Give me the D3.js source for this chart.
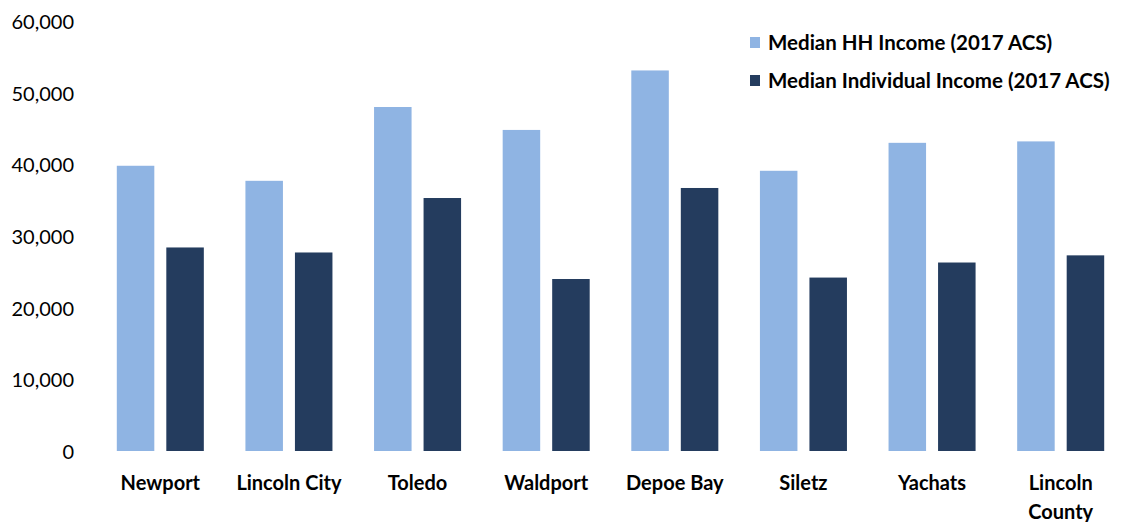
<!DOCTYPE html>
<html>
<head>
<meta charset="utf-8">
<script src="https://cdn.jsdelivr.net/npm/d3@7"></script>
<style>
  html, body { margin: 0; padding: 0; background: #fff; }
  svg { display: block; }
  text { font-family: "Lato", "Open Sans", sans-serif; fill: #000; }
</style>
</head>
<body>
<svg id="chart" width="1123" height="522"></svg>
<script>
const categories = ["Newport", "Lincoln City", "Toledo", "Waldport", "Depoe Bay", "Siletz", "Yachats", "Lincoln County"];
const seriesNames = ["Median HH Income (2017 ACS)", "Median Individual Income (2017 ACS)"];
const hhIncome = [39800, 37700, 48000, 44800, 53100, 39100, 43000, 43200];
const individualIncome = [28400, 27700, 35300, 24000, 36700, 24200, 26300, 27300];
const yTicks = [0, 10000, 20000, 30000, 40000, 50000, 60000];
const colors = ["#8fb4e3", "#243c5e"];

const svg = d3.select("#chart");

const x0 = d3.scaleBand().domain(categories).range([96, 1125]).paddingInner(0).paddingOuter(0);
const innerPad = 20.8;
const x1 = d3.scaleBand().domain(seriesNames).range([innerPad, x0.bandwidth() - innerPad]).paddingInner(0.2424).paddingOuter(0);
const y = d3.scaleLinear().domain([0, 60000]).range([451, 21]);

const seriesValues = [hhIncome, individualIncome];

// bars
const groups = svg.append("g").selectAll("g")
  .data(categories)
  .join("g")
  .attr("transform", d => `translate(${x0(d)},0)`);

groups.selectAll("rect")
  .data((d, i) => seriesNames.map((s, j) => ({ s, j, v: seriesValues[j][i] })))
  .join("rect")
  .attr("x", d => x1(d.s))
  .attr("width", x1.bandwidth())
  .attr("y", d => y(d.v))
  .attr("height", d => y(0) - y(d.v))
  .attr("fill", d => colors[d.j]);

// y axis
const yAxis = d3.axisLeft(y)
  .tickValues(yTicks)
  .tickFormat(d3.format(","))
  .tickSize(0)
  .tickPadding(0);
const yg = svg.append("g").attr("transform", "translate(74,1)").call(yAxis);
yg.select(".domain").remove();
yg.selectAll("text")
  .style("font-family", "Lato, sans-serif")
  .style("font-size", "20px")
  .attr("fill", "#000");

// x axis
const xAxis = d3.axisBottom(x0).tickSize(0).tickPadding(0);
const xg = svg.append("g").attr("transform", "translate(0,476)").call(xAxis);
xg.select(".domain").remove();
xg.selectAll("text")
  .style("font-family", "Lato, sans-serif")
  .style("font-size", "20px")
  .style("font-weight", "bold")
  .attr("fill", "#000")
  .each(function(d) {
    const t = d3.select(this);
    if (d === "Lincoln County") {
      t.text(null);
      const words = d.split(" ");
      words.forEach((w, i) => {
        t.append("tspan").attr("x", 0).attr("dy", i === 0 ? "0.71em" : "1.45em").text(w);
      });
    }
  });

// legend
const legend = svg.append("g").attr("transform", "translate(750,0)");
const legendY = [43, 81];
seriesNames.forEach((s, i) => {
  legend.append("rect")
    .attr("x", 0).attr("y", legendY[i] - 6)
    .attr("width", 10).attr("height", 11)
    .attr("fill", colors[i]);
  legend.append("text")
    .attr("x", 18).attr("y", legendY[i])
    .attr("dy", "0.35em")
    .style("font-size", "20.5px")
    .style("font-weight", "bold")
    .text(s);
});
</script>
</body>
</html>
